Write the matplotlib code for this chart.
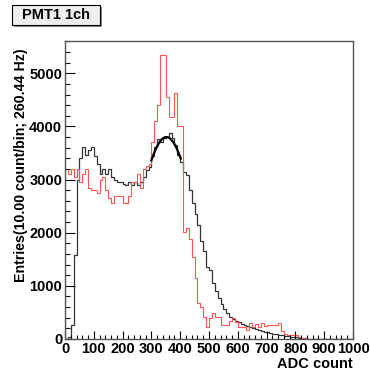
import numpy as np
import matplotlib
matplotlib.use("Agg")
import matplotlib.pyplot as plt
from matplotlib.patches import Rectangle

# ---- data ----
bin_edges = np.arange(0, 1010, 10)

black_counts = [
    0, 40, 263, 1580, 2990, 3400, 3615, 3460, 3550, 3615,
    3450, 3300, 3110, 3200, 3110, 3200, 3050, 3000, 2950, 2950,
    2920, 2900, 2960, 2900, 2950, 2900, 2960, 3050, 3180, 3230,
    3450, 3615, 3770, 3700, 3780, 3800, 3870, 3780, 3650, 3460,
    3330, 3150, 3080, 2800, 2550, 2350, 2150, 1850, 1650, 1350,
    1300, 1050, 900, 780, 650, 560, 480, 420, 370, 340,
    315, 290, 265, 245, 225, 205, 185, 170, 155, 140,
    130, 115, 100, 90, 80, 72, 62, 55, 47, 40,
    32, 24, 16, 10, 6, 4, 3, 2, 1, 1,
    0, 0, 0, 0, 0, 0, 0, 0, 0, 0,
]

red_counts = [
    3200, 3100, 3200, 3050, 3200, 2950, 3100, 3200, 2850, 2800,
    2800, 2750, 3000, 3050, 2800, 2650, 2550, 2700, 2700, 2700,
    2550, 2550, 2700, 2950, 2950, 3100, 2850, 3200, 3250, 3300,
    3700, 4100, 4400, 5340, 5340, 4550, 4180, 4180, 4620, 4000,
    4000, 2020, 2080, 1890, 1550, 1150, 670, 610, 420, 230,
    400, 480, 420, 420, 260, 260, 260, 330, 390, 320,
    230, 230, 230, 170, 300, 230, 290, 230, 295, 240,
    270, 270, 270, 270, 300, 150, 90, 75, 75, 75,
    75, 40, 20, 10, 5, 2, 1, 0, 0, 0,
    0, 0, 0, 0, 0, 0, 0, 0, 0, 0,
]

fit_amp = 3800.0
fit_mean = 352.0
fit_sigma = 105.0
fit_range = (300.0, 402.0)

title_text = "PMT1 1ch"
xlabel_text = "ADC count"
ylabel_text = "Entries(10.00 count/bin; 260.44 Hz)"

# ---- plot ----
plt.rcParams['font.family'] = ['Liberation Sans', 'DejaVu Sans']
plt.rcParams['font.weight'] = 'bold'

fig = plt.figure(figsize=(3.70, 3.71), dpi=100)
ax = fig.add_axes([65/370, 1 - 339/371, 288/370, 298/371])

ax.stairs(black_counts, bin_edges, color='#333333', lw=0.9)
ax.stairs(red_counts, bin_edges, color='#ff5555', lw=0.8)

xf = np.linspace(fit_range[0], fit_range[1], 200)
yf = fit_amp * np.exp(-0.5 * ((xf - fit_mean) / fit_sigma) ** 2)
ax.plot(xf, yf, color='black', lw=1.6)

ax.set_xlim(0, 1000)
ax.set_ylim(0, 5607)

ax.set_xticks(np.arange(0, 1001, 100))
ax.set_xticks(np.arange(0, 1001, 20), minor=True)
ax.set_yticks(np.arange(0, 5001, 1000))
ax.set_yticks(np.arange(0, 5601, 200), minor=True)

ax.tick_params(axis='both', which='both', direction='in', top=False, right=False,
               labelsize=10.5, colors='black')
ax.tick_params(axis='x', which='major', length=6, width=0.8, pad=2)
ax.tick_params(axis='x', which='minor', length=3, width=0.8)
ax.tick_params(axis='y', which='major', length=7, width=0.8, pad=2)
ax.tick_params(axis='y', which='minor', length=3.5, width=0.8)

for lab in ax.get_xticklabels() + ax.get_yticklabels():
    lab.set_fontweight('bold')

for s in ax.spines.values():
    s.set_color('#555555')
    s.set_linewidth(1.0)

ax.set_xlabel(xlabel_text, fontsize=10.5, fontweight='bold', loc='right', labelpad=1)
ax.set_ylabel(ylabel_text, fontsize=10.2, fontweight='bold', loc='top')
ax.yaxis.set_label_coords(-0.13, 0.975)

# title box
bx0, by0, bw, bh = 12/370, 1 - 25/371, 88/370, 20/371
fig.patches.append(Rectangle((bx0 + 2/370, by0 - 2/371), bw, bh, transform=fig.transFigure,
                             facecolor='#888888', edgecolor='none', zorder=1))
fig.patches.append(Rectangle((bx0, by0), bw, bh, transform=fig.transFigure,
                             facecolor='#eeeeee', edgecolor='black', lw=0.8, zorder=2))
fig.text(bx0 + bw/2, by0 + bh/2, title_text, ha='center', va='center',
         fontsize=10.5, fontweight='bold', zorder=3)

fig.savefig("out.png", dpi=100)
